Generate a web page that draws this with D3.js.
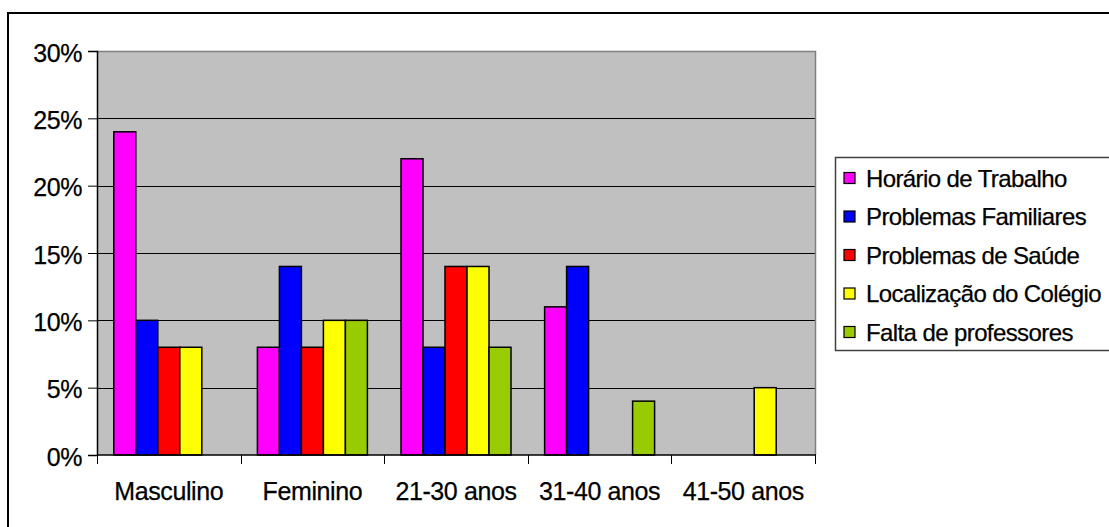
<!DOCTYPE html>
<html>
<head>
<meta charset="utf-8">
<script src="https://cdn.jsdelivr.net/npm/d3@7"></script>
<style>
  html, body { margin: 0; padding: 0; background: #fff; }
  svg { display: block; }
  text { font-family: Arial, "Liberation Sans", sans-serif; fill: #000; stroke: #000; stroke-width: 0.25px; }
</style>
</head>
<body>
<svg id="chart" width="1109" height="527"></svg>
<script>
// Motivos de evasão por grupo (percentual)
const categories = ["Masculino", "Feminino", "21-30 anos", "31-40 anos", "41-50 anos"];
const series = ["Horário de Trabalho", "Problemas Familiares", "Problemas de Saúde", "Localização do Colégio", "Falta de professores"];
const horarioTrabalho      = [0.24, 0.08, 0.22, 0.11, 0.00];
const problemasFamiliares  = [0.10, 0.14, 0.08, 0.14, 0.00];
const problemasSaude       = [0.08, 0.08, 0.14, 0.00, 0.00];
const localizacaoColegio   = [0.08, 0.10, 0.14, 0.00, 0.05];
const faltaProfessores     = [0.00, 0.10, 0.08, 0.04, 0.00];
const yTicks = [0, 0.05, 0.10, 0.15, 0.20, 0.25, 0.30];
const colors = ["#FF00FF", "#0000FF", "#FF0000", "#FFFF00", "#99CC00"];

const valuesBySeries = [horarioTrabalho, problemasFamiliares, problemasSaude, localizacaoColegio, faltaProfessores];

const AXIS_FONT = 25;
const LEGEND_FONT = 24;
const svg = d3.select("#chart");

// Outer chart frame (right and bottom edges fall outside the canvas)
svg.append("rect")
  .attr("x", 8).attr("y", 13)
  .attr("width", 1120).attr("height", 540)
  .attr("fill", "#fff").attr("stroke", "#000").attr("stroke-width", 2);

const plot = { left: 97, right: 815, top: 51, bottom: 455 };

const x0 = d3.scaleBand().domain(categories).range([plot.left, plot.right]).paddingInner(0).paddingOuter(0);
const x1 = d3.scaleBand().domain(d3.range(series.length)).range([0, x0.bandwidth()]).paddingInner(0).paddingOuter(0.764);
const y = d3.scaleLinear().domain([0, 0.30]).range([plot.bottom, plot.top]);

// Plot area background
svg.append("rect")
  .attr("x", plot.left).attr("y", plot.top)
  .attr("width", plot.right - plot.left).attr("height", plot.bottom - plot.top)
  .attr("fill", "#C0C0C0");

// Gridlines
svg.append("g")
  .selectAll("line")
  .data(yTicks.filter(t => t > 0 && t < 0.30))
  .join("line")
  .attr("x1", plot.left).attr("x2", plot.right)
  .attr("y1", d => Math.round(y(d)) + 0.5).attr("y2", d => Math.round(y(d)) + 0.5)
  .attr("stroke", "#000").attr("stroke-width", 1);

// Plot area border (top and right in gray)
svg.append("path")
  .attr("d", `M${plot.left},${plot.top + 0.5}H${plot.right + 0.5}V${plot.bottom}`)
  .attr("fill", "none").attr("stroke", "#808080").attr("stroke-width", 1.5);

// Bars
const groups = svg.append("g")
  .selectAll("g")
  .data(categories)
  .join("g")
  .attr("transform", d => `translate(${x0(d)},0)`);

groups.selectAll("rect")
  .data((c, ci) => valuesBySeries.map((vals, si) => ({ si, v: vals[ci] })).filter(d => d.v > 0))
  .join("rect")
  .attr("x", d => x1(d.si))
  .attr("y", d => y(d.v))
  .attr("width", x1.bandwidth())
  .attr("height", d => y(0) - y(d.v))
  .attr("fill", d => colors[d.si])
  .attr("stroke", "#000").attr("stroke-width", 1.5);

// Y axis
const yAxis = d3.axisLeft(y)
  .tickValues(yTicks)
  .tickFormat(d3.format(".0%"))
  .tickSize(9)
  .tickPadding(6);
const gy = svg.append("g").attr("transform", `translate(${plot.left},0)`).call(yAxis);
gy.select(".domain").attr("stroke", "#000").attr("stroke-width", 1.5);
gy.selectAll(".tick line").attr("stroke", "#000");
gy.selectAll(".tick text")
  .attr("font-size", AXIS_FONT).attr("font-family", "Arial, 'Liberation Sans', sans-serif")
  .attr("letter-spacing", -0.4)
  .attr("dy", "0.4em");

// X axis: ticks at category boundaries, labels centered in each band
const xAxisG = svg.append("g");
xAxisG.append("line")
  .attr("x1", plot.left).attr("x2", plot.right + 1)
  .attr("y1", plot.bottom).attr("y2", plot.bottom)
  .attr("stroke", "#000").attr("stroke-width", 1.5);
const boundaries = categories.map(c => x0(c)).concat([plot.right]);
xAxisG.selectAll("line.tk")
  .data(boundaries)
  .join("line").attr("class", "tk")
  .attr("x1", d => Math.round(d) + 0.5).attr("x2", d => Math.round(d) + 0.5)
  .attr("y1", plot.bottom).attr("y2", plot.bottom + 9)
  .attr("stroke", "#000");
xAxisG.selectAll("text")
  .data(categories)
  .join("text")
  .attr("x", d => x0(d) + x0.bandwidth() / 2)
  .attr("y", 500)
  .attr("text-anchor", "middle")
  .attr("font-size", AXIS_FONT)
  .attr("letter-spacing", -0.4)
  .text(d => d);

// Legend
const legend = svg.append("g");
legend.append("rect")
  .attr("x", 835.5).attr("y", 157.5)
  .attr("width", 300).attr("height", 193)
  .attr("fill", "#fff").attr("stroke", "#404040").attr("stroke-width", 1.5);
const rowY = d3.scalePoint().domain(d3.range(series.length)).range([178, 332]);
const items = legend.selectAll("g.item")
  .data(series)
  .join("g").attr("class", "item")
  .attr("transform", (d, i) => `translate(0,${rowY(i)})`);
items.append("rect")
  .attr("x", 844).attr("y", -5.5)
  .attr("width", 11).attr("height", 11)
  .attr("fill", (d, i) => colors[i])
  .attr("stroke", "#000").attr("stroke-width", 1.2);
items.append("text")
  .attr("x", 866).attr("y", 0)
  .attr("dy", "0.36em")
  .attr("font-size", LEGEND_FONT)
  .attr("letter-spacing", -0.6)
  .text(d => d);
</script>
</body>
</html>
